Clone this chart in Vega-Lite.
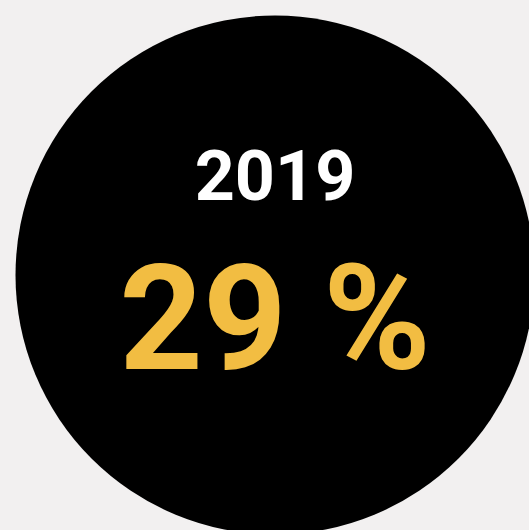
{
  "$schema": "https://vega.github.io/schema/vega-lite/v6.json",
  "width": 550,
  "height": 550,
  "autosize": {"type": "none"},
  "padding": 0,
  "background": "#f2f0f0",
  "config": {"view": {"stroke": null}},
  "data": {"values": [{"year": "2019", "share": "29 %"}]},
  "layer": [
    {
      "mark": {"type": "point", "shape": "circle", "filled": true, "color": "#000000", "opacity": 1, "size": 269361, "strokeWidth": 0}
    },
    {
      "mark": {"type": "text", "align": "center", "baseline": "alphabetic", "dy": -75, "font": "Roboto", "fontWeight": "bold", "fontSize": 70, "color": "#ffffff"},
      "encoding": {"text": {"field": "year", "type": "nominal"}}
    },
    {
      "mark": {"type": "text", "align": "center", "baseline": "alphabetic", "dy": 94, "font": "Roboto", "fontWeight": "bold", "fontSize": 146, "color": "#f2bd42"},
      "encoding": {"text": {"field": "share", "type": "nominal"}}
    }
  ]
}
